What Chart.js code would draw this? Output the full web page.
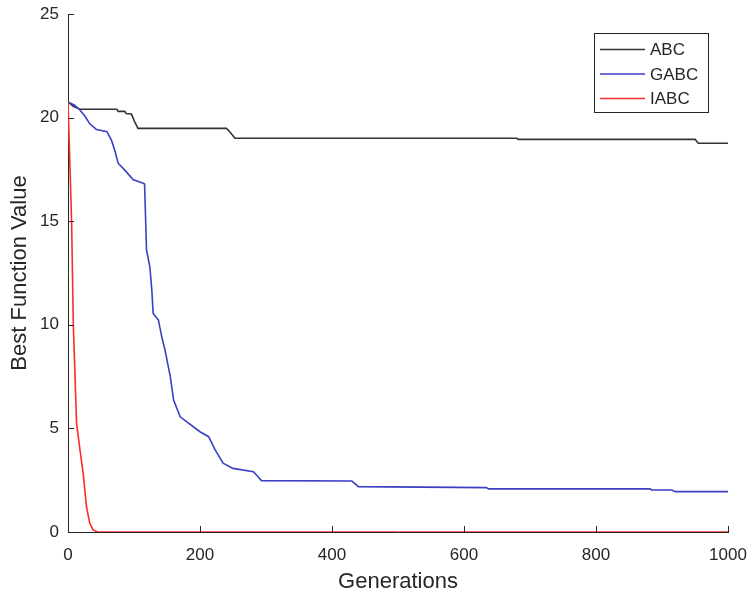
<!DOCTYPE html>
<html>
<head>
<meta charset="utf-8">
<script src="https://cdn.jsdelivr.net/npm/chart.js@4"></script>
<style>
  html, body { margin: 0; padding: 0; background: #fff; }
  canvas { display: block; }
</style>
</head>
<body>
<canvas id="convChart" width="752" height="598"></canvas>
<script>
// values
const seriesNames = ["ABC", "GABC", "IABC"];

const abcGen = [0, 8, 18, 74, 76, 86, 88, 96, 101, 106, 240, 245, 253, 680, 682, 950, 955, 1000];
const abcVal = [20.75, 20.55, 20.4, 20.4, 20.3, 20.3, 20.2, 20.17, 19.8, 19.48, 19.48, 19.32, 19.0, 19.0, 18.95, 18.95, 18.76, 18.76];

const gabcGen = [0, 10, 18, 26, 33, 43, 59, 66, 71, 76, 85, 99, 114, 116, 119, 124, 127, 129, 137, 142, 147, 155, 160, 170, 180, 200, 213, 223, 235, 250, 281, 287, 293, 430, 436, 440, 634, 637, 882, 884, 915, 920, 1000];
const gabcVal = [20.75, 20.6, 20.37, 20.05, 19.7, 19.43, 19.32, 18.9, 18.4, 17.8, 17.5, 17.0, 16.83, 16.8, 13.6, 12.8, 11.68, 10.55, 10.23, 9.43, 8.78, 7.5, 6.37, 5.56, 5.32, 4.84, 4.6, 3.96, 3.32, 3.07, 2.91, 2.7, 2.48, 2.46, 2.3, 2.19, 2.14, 2.08, 2.08, 2.03, 2.03, 1.95, 1.95];

const iabcGen = [0, 3, 5.5, 8, 13, 18, 23, 28, 33, 38, 45, 1000];
const iabcVal = [20.77, 17.6, 14.9, 10.07, 5.24, 4.0, 2.83, 1.22, 0.42, 0.1, 0, 0];

const xTicks = [0, 200, 400, 600, 800, 1000];
const yTicks = [0, 5, 10, 15, 20, 25];

const axisColor = "#262626";
const lineColors = ["#333333", "#3a3fc4", "#ff2a2a"];
const fontFamily = "'Liberation Sans', Arial, sans-serif";

function toPoints(xs, ys) {
  return xs.map((x, i) => ({ x: x, y: ys[i] }));
}

// MATLAB style ticks pointing into the plot
const inwardTicks = {
  id: "inwardTicks",
  afterDatasetsDraw(chart) {
    const { ctx, chartArea, scales } = chart;
    ctx.save();
    ctx.strokeStyle = axisColor;
    ctx.lineWidth = 1;
    ctx.beginPath();
    xTicks.forEach(v => {
      const px = Math.round(scales.x.getPixelForValue(v)) + 0.5;
      ctx.moveTo(px, chartArea.bottom);
      ctx.lineTo(px, chartArea.bottom - 6);
    });
    yTicks.forEach(v => {
      const py = Math.round(scales.y.getPixelForValue(v)) + 0.5;
      ctx.moveTo(chartArea.left, py);
      ctx.lineTo(chartArea.left + 6, py);
    });
    ctx.stroke();
    ctx.restore();
  }
};

// boxed legend in the upper right corner
const boxLegend = {
  id: "boxLegend",
  afterDraw(chart) {
    const ctx = chart.ctx;
    const bx = 594.5, by = 33.5, bw = 114, bh = 79;
    ctx.save();
    ctx.fillStyle = "#ffffff";
    ctx.fillRect(bx, by, bw, bh);
    ctx.strokeStyle = axisColor;
    ctx.lineWidth = 1;
    ctx.strokeRect(bx, by, bw, bh);
    ctx.font = "17px " + fontFamily;
    ctx.textBaseline = "middle";
    chart.data.datasets.forEach((ds, i) => {
      const y = 49.5 + i * 24.5;
      ctx.strokeStyle = ds.borderColor;
      ctx.lineWidth = 1.5;
      ctx.beginPath();
      ctx.moveTo(600, y);
      ctx.lineTo(645, y);
      ctx.stroke();
      ctx.fillStyle = axisColor;
      ctx.fillText(ds.label, 650, y + 1);
    });
    ctx.restore();
  }
};

const ctx = document.getElementById("convChart").getContext("2d");
const convChart = new Chart(ctx, {
  type: "line",
  data: {
    datasets: [
      { label: seriesNames[0], data: toPoints(abcGen, abcVal), borderColor: lineColors[0], order: 2 },
      { label: seriesNames[1], data: toPoints(gabcGen, gabcVal), borderColor: lineColors[1], order: 1 },
      { label: seriesNames[2], data: toPoints(iabcGen, iabcVal), borderColor: lineColors[2], order: 0 }
    ]
  },
  options: {
    responsive: false,
    devicePixelRatio: 1,
    animation: false,
    layout: { padding: { top: 14, right: 24, left: 0, bottom: 0 } },
    elements: {
      line: { borderWidth: 1.6, tension: 0, fill: false },
      point: { radius: 0, hoverRadius: 0 }
    },
    plugins: {
      legend: { display: false },
      tooltip: { enabled: false }
    },
    scales: {
      x: {
        type: "linear",
        min: 0,
        max: 1000,
        afterFit: scale => {
          scale.height = 66;
          scale.paddingLeft = 0;
          scale.paddingRight = 0;
        },
        afterBuildTicks: scale => { scale.ticks = xTicks.map(v => ({ value: v })); },
        grid: { drawOnChartArea: false, drawTicks: false, color: axisColor },
        border: { display: true, color: axisColor, width: 1 },
        ticks: {
          padding: 13,
          color: axisColor,
          maxRotation: 0,
          callback: v => String(v),
          font: { family: fontFamily, size: 17 }
        },
        title: {
          display: true,
          text: "Generations",
          color: axisColor,
          padding: { top: 0, bottom: 3 },
          font: { family: fontFamily, size: 22 }
        }
      },
      y: {
        min: 0,
        max: 25,
        afterFit: scale => {
          scale.width = 68;
          scale.paddingTop = 0;
          scale.paddingBottom = 0;
        },
        afterBuildTicks: scale => { scale.ticks = yTicks.map(v => ({ value: v })); },
        grid: { drawOnChartArea: false, drawTicks: false, color: axisColor },
        border: { display: true, color: axisColor, width: 1 },
        ticks: {
          padding: 9,
          color: axisColor,
          callback: v => String(v),
          font: { family: fontFamily, size: 17 }
        },
        title: {
          display: true,
          text: "Best Function Value",
          color: axisColor,
          padding: { top: 7, bottom: 0 },
          font: { family: fontFamily, size: 22 }
        }
      }
    }
  },
  plugins: [inwardTicks, boxLegend]
});
</script>
</body>
</html>
